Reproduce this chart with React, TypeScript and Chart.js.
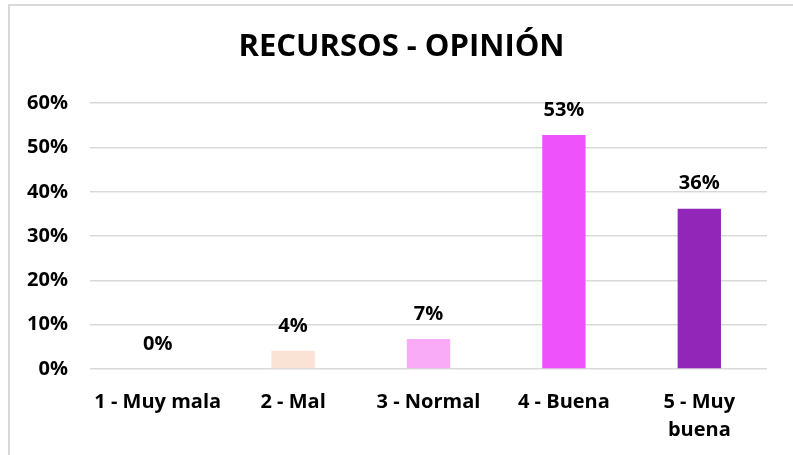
import React, { useEffect, useRef } from "react";
import { Chart, registerables } from "chart.js";

Chart.register(...registerables);

const categories: (string | string[])[] = ["1 - Muy mala", "2 - Mal", "3 - Normal", "4 - Buena", ["5 - Muy", "buena"]];
const values: number[] = [0, 0.041, 0.068, 0.528, 0.362];
const barColors: string[] = ["#F2F2F2", "#FAE3D4", "#FAABF7", "#EE52FA", "#9126B8"];
const titleText = "RECURSOS - OPINIÓN";

const FONT = "'Open Sans', Lato, sans-serif";
const W = "bold";

const valueLabels = {
  id: "valueLabels",
  afterDatasetsDraw(chart: any) {
    const { ctx } = chart;
    const meta = chart.getDatasetMeta(0);
    ctx.save();
    ctx.font = `${W} 20px ${FONT}`;
    ctx.fillStyle = "#000";
    ctx.textAlign = "center";
    ctx.textBaseline = "middle";
    meta.data.forEach((bar: any, i: number) => {
      const v = values[i];
      ctx.fillText(`${Math.round(v * 100)}%`, bar.x, bar.y - 25);
    });
    ctx.restore();
  },
};

export default function App() {
  const ref = useRef<HTMLCanvasElement | null>(null);
  useEffect(() => {
    if (!ref.current) return;
    const chart = new Chart(ref.current, {
      type: "bar",
      data: {
        labels: categories,
        datasets: [
          {
            data: values,
            backgroundColor: barColors,
            categoryPercentage: 0.64,
            barPercentage: 0.5,
            yAxisID: "y",
          },
        ],
      },
      options: {
        responsive: false,
        animation: false,
        layout: { padding: { left: 0, right: 0, top: 0, bottom: 0 } },
        plugins: {
          legend: { display: false },
          tooltip: { enabled: false },
          title: {
            display: true,
            text: titleText,
            color: "#000",
            font: { family: FONT, size: 31, weight: W as any, lineHeight: 1.2 },
            padding: { top: 23, bottom: 37 },
          },
        },
        scales: {
          x: {
            grid: { display: false, drawTicks: false },
            border: { display: false },
            afterFit: (s: any) => {
              s.height = 86;
            },
            ticks: {
              color: "#000",
              font: { family: FONT, size: 20, weight: W as any, lineHeight: 1.4 },
              padding: 19,
              maxRotation: 0,
              autoSkip: false,
            },
          },
          y: {
            position: "left",
            min: 0,
            max: 0.6,
            grid: { color: "#D9D9D9", lineWidth: 1.5, drawTicks: false },
            border: { display: false },
            afterFit: (s: any) => {
              s.width = 80;
            },
            ticks: {
              stepSize: 0.1,
              color: "#000",
              padding: 22,
              font: { family: FONT, size: 20, weight: W as any },
              callback: (v: any) => `${Math.round(Number(v) * 100)}%`,
            },
          },
          ySpacer: {
            position: "right",
            min: 0,
            max: 1,
            grid: { display: false, drawTicks: false },
            border: { display: false },
            ticks: { display: false },
            afterFit: (s: any) => {
              s.width = 26;
            },
          },
        } as any,
      },
      plugins: [valueLabels],
    });
    return () => chart.destroy();
  }, []);

  return (
    <div
      style={{
        position: "fixed",
        left: 8,
        top: 4,
        width: 785,
        height: 451,
        boxSizing: "border-box",
        borderLeft: "2px solid #D9D9D9",
        borderTop: "2px solid #D9D9D9",
        background: "#fff",
      }}
    >
      <canvas ref={ref} width={783} height={449} style={{ display: "block" }} />
    </div>
  );
}
